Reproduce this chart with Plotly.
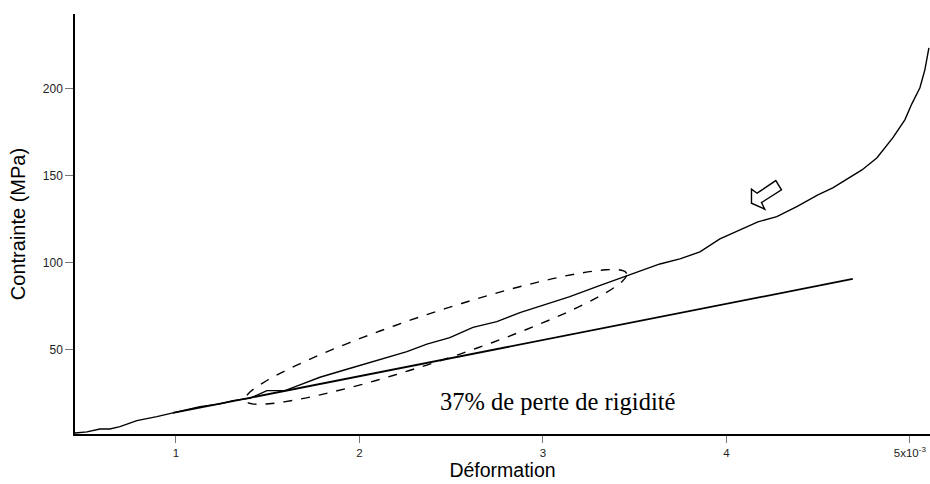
import plotly.graph_objects as go
import numpy as np

# strain (x10^-3) and stress (MPa)
strain = [0.450, 0.515, 0.586, 0.640, 0.695, 0.787, 0.896, 0.984, 1.131, 1.240,
          1.311, 1.387, 1.403, 1.496, 1.594, 1.676, 1.785, 1.932, 2.128, 2.259,
          2.368, 2.493, 2.619, 2.749, 2.875, 3.011, 3.147, 3.294, 3.420, 3.529,
          3.638, 3.747, 3.856, 3.965, 4.074, 4.172, 4.275, 4.384, 4.499, 4.580,
          4.739, 4.820, 4.907, 4.973, 5.011, 5.055, 5.082, 5.104]
stress = [2.3, 2.9, 4.6, 4.6, 5.9, 9.4, 11.7, 13.8, 17.4, 19.0,
          20.9, 22.0, 22.2, 26.6, 26.6, 29.9, 34.3, 38.9, 44.7, 49.0,
          53.3, 57.1, 63.0, 66.3, 71.4, 75.9, 80.6, 86.4, 91.2, 95.6,
          99.4, 102.3, 106.3, 113.8, 119.0, 123.6, 126.6, 132.4, 139.1, 143.1,
          153.4, 160.3, 171.8, 182.2, 191.4, 200.6, 210.9, 223.6]

# initial stiffness line
tangent_strain = [0.984, 4.689]
tangent_stress = [13.8, 90.8]

x_ticks = [1, 2, 3, 4, 5]
x_ticktext = ["1", "2", "3", "4", "5x10<sup>-3</sup>"]
y_ticks = [50, 100, 150, 200]

fig = go.Figure()
fig.add_trace(go.Scatter(x=strain, y=stress, mode="lines",
                         line=dict(color="black", width=1.4)))
fig.add_trace(go.Scatter(x=tangent_strain, y=tangent_stress, mode="lines",
                         line=dict(color="black", width=1.8)))

# dashed ellipse around the loss region (pixel path anchored at its centre)
t = np.linspace(0, 2 * np.pi, 73)
a, b, th = 201, 24, np.radians(18.4)
ex = a * np.cos(t) * np.cos(th) - b * np.sin(t) * np.sin(th)
ey = a * np.cos(t) * np.sin(th) + b * np.sin(t) * np.cos(th)
ell = "M" + " L".join(f"{u:.1f},{v:.1f}" for u, v in zip(ex, ey)) + " Z"
fig.add_shape(type="path", path=ell, xref="x", yref="y",
              xsizemode="pixel", ysizemode="pixel", xanchor=2.417, yanchor=57.5,
              line=dict(color="black", width=1.4, dash="dash"))

# hollow block arrow
arrow = "M0,0 L0,14 L5.6,10 L24.3,22.6 L30,13.3 L10,0.6 L13.3,-6 Z"
fig.add_shape(type="path", path=arrow, xref="x", yref="y",
              xsizemode="pixel", ysizemode="pixel", xanchor=4.137, yanchor=134.3,
              line=dict(color="black", width=1.4))

fig.add_annotation(x=2.43, y=20.1, xref="x", yref="y", xanchor="left", yanchor="middle",
                   text="37% de perte de rigidité", showarrow=False,
                   font=dict(family="Liberation Serif", size=24.5, color="black"))

fig.update_layout(
    template="none",
    width=930, height=484,
    margin=dict(l=75, r=0, t=14, b=50),
    plot_bgcolor="white", paper_bgcolor="white",
    showlegend=False,
    font=dict(family="Liberation Sans", color="#222222"),
    xaxis=dict(range=[0.45, 5.11], tickvals=x_ticks, ticktext=x_ticktext, automargin=False,
               showgrid=False, zeroline=False, showline=True, linecolor="black", linewidth=1.5,
               ticks="outside", ticklen=7, tickcolor="#777", tickfont=dict(size=11.5, color="#222222"),
               title=dict(text="Déformation", font=dict(size=19.5, color="black"), standoff=4)),
    yaxis=dict(range=[1.7, 243], tickvals=y_ticks, automargin=False,
               showgrid=False, zeroline=False, showline=True, linecolor="black", linewidth=1.5,
               ticks="outside", ticklen=8, tickcolor="#777", tickfont=dict(size=12, color="#222222"),
               title=dict(text="Contrainte (MPa)", font=dict(size=20, color="black"), standoff=12)),
)

fig.write_html("out.html", config={"displayModeBar": False},
               post_script="document.body.style.margin='0';")
